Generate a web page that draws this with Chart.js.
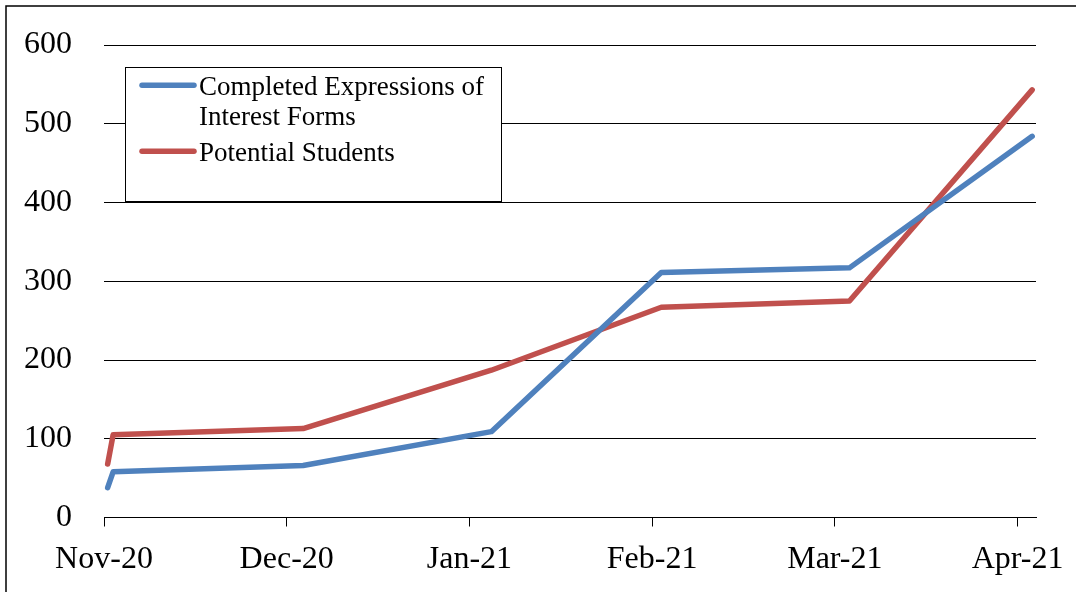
<!DOCTYPE html>
<html>
<head>
<meta charset="utf-8">
<script src="https://cdn.jsdelivr.net/npm/chart.js@4/dist/chart.umd.min.js"></script>
<style>
  html, body { margin: 0; padding: 0; background: #ffffff; }
  #wrap { width: 1076px; height: 592px; }
</style>
</head>
<body>
<div id="wrap"><canvas id="chart" width="1076" height="592"></canvas></div>
<script>
// Month labels on the horizontal axis (one tick per month, starting at 0)
const monthLabels = ['Nov-20', 'Dec-20', 'Jan-21', 'Feb-21', 'Mar-21', 'Apr-21'];

// Position of each reading, in months since the start of Nov-20
const readingMonths = [0.02, 0.05, 1.09, 2.12, 3.05, 4.08, 5.08];

// Series values
const completedForms = [38, 58, 66, 109, 311, 317, 484];
const potentialStudents = [68, 105, 113, 187, 267, 275, 543];

const seriesNames = ['Completed Expressions of Interest Forms', 'Potential Students'];
const seriesColors = ['#4F81BD', '#C0504D'];

const yTicks = [0, 100, 200, 300, 400, 500, 600];

const FONT = "'Liberation Serif', 'Times New Roman', serif";

function toPoints(values) {
  return values.map((v, i) => ({ x: readingMonths[i], y: v }));
}

// Thin frame around the whole figure
const framePlugin = {
  id: 'frame',
  beforeDraw(chart) {
    const ctx = chart.ctx;
    ctx.save();
    ctx.strokeStyle = '#000000';
    ctx.lineWidth = 1.5;
    ctx.strokeRect(6, 6, chart.width + 50, chart.height + 50);
    ctx.restore();
  }
};

// Boxed legend with wrapped labels, drawn inside the plot
const boxLegendPlugin = {
  id: 'boxLegend',
  afterDraw(chart, args, opts) {
    const ctx = chart.ctx;
    const b = opts.box;
    ctx.save();
    ctx.fillStyle = '#ffffff';
    ctx.fillRect(b.left, b.top, b.width, b.height);
    ctx.strokeStyle = '#000000';
    ctx.lineWidth = 1;
    ctx.strokeRect(b.left + 0.5, b.top + 0.5, b.width, b.height);

    ctx.font = opts.fontSize + 'px ' + FONT;
    ctx.fillStyle = '#000000';
    ctx.textBaseline = 'alphabetic';
    ctx.textAlign = 'left';

    let baseline = opts.firstBaseline;
    chart.data.datasets.forEach((ds) => {
      // wrap the label to the space available in the box
      const words = ds.label.split(' ');
      const lines = [];
      let cur = '';
      words.forEach((w) => {
        const test = cur ? cur + ' ' + w : w;
        if (ctx.measureText(test).width > opts.maxTextWidth && cur) {
          lines.push(cur);
          cur = w;
        } else {
          cur = test;
        }
      });
      if (cur) lines.push(cur);

      // sample line
      const sy = baseline - opts.fontSize * 0.36;
      ctx.beginPath();
      ctx.strokeStyle = ds.borderColor;
      ctx.lineWidth = ds.borderWidth;
      ctx.lineCap = 'round';
      ctx.moveTo(opts.sampleStart, sy);
      ctx.lineTo(opts.sampleEnd, sy);
      ctx.stroke();

      lines.forEach((ln, i) => {
        ctx.fillText(ln, opts.textStart, baseline + i * opts.lineGap);
      });
      baseline += (lines.length - 1) * opts.lineGap + opts.itemGap;
    });
    ctx.restore();
  }
};

const chart = new Chart(document.getElementById('chart'), {
  type: 'line',
  data: {
    datasets: [
      {
        label: seriesNames[0],
        data: toPoints(completedForms),
        borderColor: seriesColors[0],
        backgroundColor: seriesColors[0],
        borderWidth: 5.5,
        borderCapStyle: 'round',
        borderJoinStyle: 'round',
        pointRadius: 0,
        tension: 0,
        clip: false
      },
      {
        label: seriesNames[1],
        data: toPoints(potentialStudents),
        borderColor: seriesColors[1],
        backgroundColor: seriesColors[1],
        borderWidth: 5.5,
        borderCapStyle: 'round',
        borderJoinStyle: 'round',
        pointRadius: 0,
        tension: 0,
        clip: false
      }
    ]
  },
  options: {
    responsive: false,
    animation: false,
    devicePixelRatio: 1,
    layout: { padding: { top: 45, right: 40, left: 0, bottom: 0 } },
    plugins: {
      legend: { display: false },
      tooltip: { enabled: false },
      boxLegend: {
        box: { left: 125, top: 67, width: 376, height: 134 },
        fontSize: 27,
        firstBaseline: 95,
        lineGap: 30,
        itemGap: 36,
        sampleStart: 142,
        sampleEnd: 194,
        textStart: 199,
        maxTextWidth: 298
      }
    },
    scales: {
      x: {
        type: 'linear',
        min: 0,
        max: 5.101,
        afterFit(scale) {
          scale.height = 592 - 517.5;
          // the plot edges are set by layout padding alone
          scale.paddingLeft = 0;
          scale.paddingRight = 0;
        },
        afterBuildTicks(scale) {
          scale.ticks = monthLabels.map((_, i) => ({ value: i }));
        },
        ticks: {
          autoSkip: false,
          maxRotation: 0,
          padding: 14,
          color: '#000000',
          font: { family: FONT, size: 32 },
          callback: (v) => monthLabels[v]
        },
        grid: {
          drawOnChartArea: false,
          drawTicks: true,
          tickLength: 9,
          color: '#000000',
          lineWidth: 1
        },
        border: { display: true, color: '#000000', width: 1 }
      },
      y: {
        min: 0,
        max: 600,
        afterFit(scale) {
          scale.width = 104;
          scale.paddingTop = 0;
          scale.paddingBottom = 0;
        },
        afterBuildTicks(scale) {
          scale.ticks = yTicks.map((v) => ({ value: v }));
        },
        ticks: {
          padding: 32,
          color: '#000000',
          font: { family: FONT, size: 32 }
        },
        grid: {
          drawTicks: false,
          color: '#000000',
          lineWidth: 1
        },
        border: { display: false }
      }
    }
  },
  plugins: [framePlugin, boxLegendPlugin]
});
</script>
</body>
</html>
